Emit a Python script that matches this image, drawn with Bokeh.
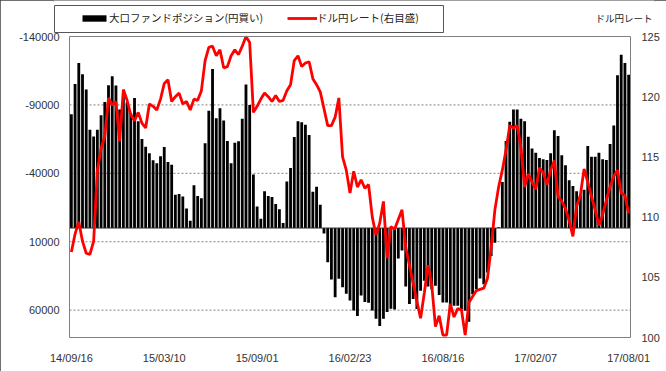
from bokeh.plotting import figure
from bokeh.models import (Range1d, LinearAxis, FixedTicker, Legend, LegendItem,
                          Label, BoxAnnotation, ColumnDataSource, PrintfTickFormatter)
from bokeh.embed import file_html
from bokeh.resources import INLINE

# ---- data -------------------------------------------------------------
tick_labels = ["14/09/16", "15/03/10", "15/09/01", "16/02/23", "16/08/16", "17/02/07", "17/08/01"]
tick_weeks = [0, 25, 50, 75, 100, 125, 150]
weeks = list(range(151))

bar_label = "大口ファンドポジション(円買い)"
line_label = "ドル円レート(右目盛)"
right_title = "ドル円レート"

positions = [
    -83200, -105300, -120600, -112400, -101200, -71800, -67000, -71800, -82500, -92200,
    -104400, -110900, -104100, -86600, -96400, -92000, -84000, -95000, -78000, -65000,
    -59500, -54600, -49500, -47300, -52500, -59200, -48300, -46300, -24300, -24800,
    -23100, -14300, -5300, -31300, -23500, -21800, -61900, -85700, -116200, -80300,
    -87600, -78600, -63600, -47300, -62400, -63400, -79900, -104900, -90000, -39100,
    -15800, -6800, -26900, -23500, -22600, -17500, -13800, -3600, -34000, -43900,
    -66500, -78100, -77400, -75500, -68000, -26500, -30100, -17000, 3900, 25000,
    37600, 50500, 37100, 43200, 48000, 52900, 60200, 64300, 49300, 54100,
    54600, 60200, 66300, 71600, 66300, 61400, 59000, 59500, 22300, 16500,
    42700, 55600, 51900, 59200, 45900, 38600, 42700, 44700, 42200, 49000,
    54400, 54400, 60400, 56800, 56800, 59200, 60400, 68400, 48300, 44700,
    36900, 41000, 32500, 20400, 10700, -500, -33700, -63600, -77700, -86600,
    -86600, -79800, -78100, -66700, -58200, -55100, -51200, -50200, -49800, -54600,
    -71400, -67200, -53200, -45900, -34900, -30800, -26900, -24000, -28000, -59900,
    -52200, -52200, -55100, -50200, -49800, -61400, -75000, -111600, -126700, -120600,
    -112100,
]

usdjpy = [
    107.1, 108.6, 109.6, 108.0, 107.0, 106.9, 108.0, 113.9, 115.7, 116.7,
    119.9, 119.3, 119.6, 116.3, 120.6, 119.7, 118.5, 118.0, 118.7, 117.8,
    117.4, 119.4, 119.2, 118.9, 119.8, 121.1, 121.4, 119.6, 120.0, 120.3,
    119.4, 119.6, 118.9, 119.8, 119.7, 120.5, 123.0, 124.1, 124.2, 123.4,
    123.9, 122.4, 122.5, 123.4, 123.9, 123.5, 124.2, 125.0, 124.5, 118.7,
    119.2, 119.8, 120.3, 120.0, 119.6, 120.1, 119.6, 119.7, 120.5, 121.0,
    123.0, 123.4, 122.5, 122.8, 122.9, 121.5, 121.0, 120.4, 119.0, 117.6,
    117.6, 118.3, 119.9, 115.0, 113.9, 112.0, 113.8, 112.5, 113.1, 112.4,
    112.7, 110.0, 108.5, 109.5, 111.3, 106.6, 109.2, 109.0, 109.8, 110.6,
    107.5, 106.0, 104.5, 103.0, 101.6, 103.7, 106.0, 104.4, 100.9, 101.8,
    100.2, 100.2, 102.8, 101.7, 102.4, 102.3, 100.2, 102.9, 103.4, 103.9,
    104.0, 104.1, 104.9, 107.5, 110.6, 112.5, 113.9, 115.6, 117.6, 117.4,
    117.6, 115.8, 112.5, 113.6, 112.9, 112.3, 114.1, 113.7, 112.7, 113.9,
    114.7, 111.7, 111.3, 110.7, 109.7, 108.4, 110.9, 111.8, 114.0, 112.9,
    111.7, 110.6, 109.3, 110.2, 111.4, 112.5, 113.4, 113.9, 112.0, 111.8,
    110.3,
]

left_ticks = [-140000, -90000, -40000, 10000, 60000]
left_min, left_max = -140000, 80000
right_ticks = [100, 105, 110, 115, 120, 125]
right_min, right_max = 100, 125

# ---- geometry (figure pixels) -----------------------------------------
W, H = 666, 371
area_l, area_r, area_t, area_b = 69, 630, 36, 337   # plot area
fr_l, fr_r, fr_t, fr_b = 53, 654, 0, 338            # drawing frame

x_lo, x_hi = weeks[0] - 0.5, weeks[-1] + 0.5
ppx_x = (x_hi - x_lo) / (area_r - area_l)
ppx_l = (left_max - left_min) / (area_b - area_t)
ppx_r = (right_max - right_min) / (area_b - area_t)

src = ColumnDataSource(dict(week=weeks, pos=positions, usd=usdjpy))

p = figure(width=W, height=H, output_backend="svg", toolbar_location=None,
           x_range=Range1d(x_lo - ppx_x * (area_l - fr_l), x_hi + ppx_x * (fr_r - area_r)),
           y_range=Range1d(left_max + ppx_l * (fr_b - area_b), left_min - ppx_l * (area_t - fr_t)),
           min_border_left=fr_l, min_border_right=W - fr_r,
           min_border_top=fr_t, min_border_bottom=H - fr_b,
           background_fill_color="white", border_fill_color="white")
p.extra_y_ranges = {"usd": Range1d(right_min - ppx_r * (fr_b - area_b),
                                   right_max + ppx_r * (area_t - fr_t))}
p.outline_line_color = None
p.styles = {"outline": "2px solid #404040", "outline-offset": "-2px"}
p.xgrid.visible = False
p.ygrid.visible = False

# dotted gridlines inside the plot area only
grid_y = left_ticks[1:]
p.segment(x0=[x_lo] * len(grid_y), x1=[x_hi] * len(grid_y), y0=grid_y, y1=grid_y,
          line_color="#808080", line_dash="2 2", line_width=1)

bars = p.vbar(x="week", top="pos", bottom=0, width=0.76, source=src,
              fill_color="black", line_color=None)
p.segment(x0=[x_lo], x1=[x_hi], y0=[0], y1=[0], line_color="#303030", line_width=1)
line = p.line(x="week", y="usd", source=src, y_range_name="usd",
              line_color="#FF0000", line_width=2.8)

# plot-area border
p.add_layout(BoxAnnotation(left=x_lo, right=x_hi, top=left_min, bottom=left_max,
                           fill_alpha=0, line_color="#808080", line_alpha=1, line_width=1,
                           level="overlay"))

right_axis = LinearAxis(y_range_name="usd", ticker=FixedTicker(ticks=right_ticks))
p.add_layout(right_axis, "right")

p.xaxis.ticker = FixedTicker(ticks=tick_weeks)
p.xaxis.major_label_overrides = {w: t for w, t in zip(tick_weeks, tick_labels)}
p.yaxis[0].ticker = FixedTicker(ticks=left_ticks)
p.yaxis[0].formatter = PrintfTickFormatter(format="%d")

for ax in [p.xaxis[0], p.yaxis[0], right_axis]:
    ax.axis_line_color = None
    ax.major_tick_line_color = None
    ax.minor_tick_line_color = None
    ax.major_tick_out = 0
    ax.major_tick_in = 0
    ax.major_label_text_font = "Liberation Sans"
    ax.major_label_text_font_size = "11px"
    ax.major_label_text_color = "#333333"
p.xaxis[0].major_label_standoff = 13
p.yaxis[0].major_label_standoff = fr_l - 59
right_axis.major_label_standoff = 641 - fr_r

legend = Legend(items=[LegendItem(label=bar_label, renderers=[bars]),
                       LegendItem(label=line_label, renderers=[line])],
                location=(79 - fr_l, fr_b - 25), orientation="horizontal",
                padding=0, margin=0, spacing=24, glyph_width=30, glyph_height=8,
                label_standoff=0, label_height=14, label_text_font="Noto Sans CJK JP",
                label_text_font_size="10.5px", label_text_color="#222222",
                border_line_color=None, background_fill_alpha=0)
p.add_layout(legend)

p.add_layout(BoxAnnotation(left=54, right=443, top=5, bottom=32,
                           left_units="canvas", right_units="canvas",
                           top_units="canvas", bottom_units="canvas",
                           fill_alpha=0, line_color="#555555", line_alpha=1, line_width=1))
p.add_layout(Label(x=652, y=17, x_units="canvas", y_units="canvas", text=right_title,
                   text_font="Noto Sans CJK JP", text_font_size="9.5px",
                   text_color="#222222", text_baseline="middle", text_align="right"))

open("out.html", "w").write(file_html(p, INLINE))
